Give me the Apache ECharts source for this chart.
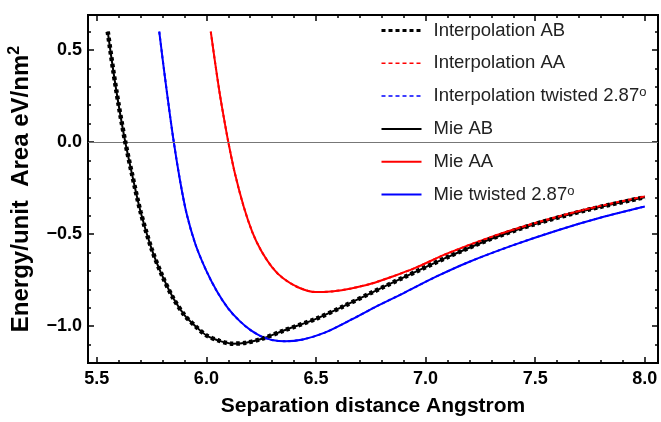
<!DOCTYPE html>
<html>
<head>
<meta charset="utf-8">
<script src="https://cdn.jsdelivr.net/npm/echarts@6/dist/echarts.min.js"></script>
<style>
  html, body { margin: 0; padding: 0; background: #fff; }
  #main { width: 661px; height: 422px; }
</style>
</head>
<body>
<div id="main"></div>
<script>
// AB stacking (black)
var abX = [5.55, 5.575, 5.60, 5.63, 5.66, 5.70, 5.75, 5.80, 5.85, 5.90, 5.95, 6.00, 6.06, 6.12, 6.18, 6.25, 6.35, 6.50, 6.62, 6.75, 6.90, 7.10, 7.30, 7.50, 7.75, 8.00];
var abY = [0.60, 0.39, 0.20, 0.00, -0.17, -0.38, -0.58, -0.73, -0.85, -0.94, -1.00, -1.05, -1.08, -1.095, -1.09, -1.07, -1.025, -0.96, -0.895, -0.82, -0.735, -0.625, -0.525, -0.445, -0.365, -0.30];
// AA stacking (red)
var aaX = [6.02, 6.04, 6.06, 6.08, 6.10, 6.13, 6.17, 6.21, 6.25, 6.30, 6.35, 6.42, 6.50, 6.58, 6.66, 6.75, 6.85, 6.95, 7.10, 7.30, 7.50, 7.75, 8.00];
var aaY = [0.60, 0.43, 0.27, 0.13, 0.00, -0.17, -0.35, -0.49, -0.59, -0.68, -0.74, -0.79, -0.815, -0.81, -0.795, -0.77, -0.73, -0.685, -0.605, -0.515, -0.44, -0.36, -0.295];
// twisted 2.87 deg (blue)
var twX = [5.785, 5.80, 5.82, 5.85, 5.88, 5.91, 5.95, 6.00, 6.05, 6.10, 6.15, 6.20, 6.25, 6.30, 6.36, 6.44, 6.54, 6.66, 6.78, 6.90, 7.05, 7.20, 7.40, 7.60, 7.80, 8.00];
var twY = [0.60, 0.455, 0.27, 0.01, -0.21, -0.39, -0.555, -0.70, -0.815, -0.905, -0.97, -1.02, -1.055, -1.075, -1.082, -1.072, -1.035, -0.965, -0.89, -0.82, -0.73, -0.65, -0.56, -0.48, -0.41, -0.35];

var xMajor = [5.5, 6.0, 6.5, 7.0, 7.5, 8.0];
var xMinor = [5.6, 5.7, 5.8, 5.9, 6.1, 6.2, 6.3, 6.4, 6.6, 6.7, 6.8, 6.9, 7.1, 7.2, 7.3, 7.4, 7.6, 7.7, 7.8, 7.9];
var yMajor = [-1.0, -0.5, 0.0, 0.5];
var yMinor = [-1.1, -0.9, -0.8, -0.7, -0.6, -0.4, -0.3, -0.2, -0.1, 0.1, 0.2, 0.3, 0.4, 0.6];

var names = ['Interpolation AB', 'Interpolation AA', 'Interpolation twisted 2.87o', 'Mie AB', 'Mie AA', 'Mie twisted 2.87o'];

function pairs(xs, ys) {
  return xs.map(function (x, i) { return [x, ys[i]]; });
}

var chart = echarts.init(document.getElementById('main'));

function fmt(v) {
  return v.toFixed(1).replace('-', '\u2212');
}

var labelFont = { color: '#000', fontSize: 18, fontWeight: 'bold', fontFamily: 'Liberation Sans' };

function xAx(pos, ticks, len, labels) {
  return {
    type: 'value', position: pos, min: 5.46, max: 8.06,
    axisLine: { show: false, onZero: false },
    splitLine: { show: false },
    axisTick: { show: true, inside: true, length: len, customValues: ticks, lineStyle: { color: '#000', width: 1.5 } },
    axisLabel: labels ? Object.assign({ show: true, customValues: ticks, formatter: fmt, margin: 7 }, labelFont) : { show: false }
  };
}
function yAx(pos, ticks, len, labels) {
  return {
    type: 'value', position: pos, min: -1.2, max: 0.69,
    axisLine: { show: false, onZero: false },
    splitLine: { show: false },
    axisTick: { show: true, inside: true, length: len, customValues: ticks, lineStyle: { color: '#000', width: 1.5 } },
    axisLabel: labels ? Object.assign({ show: true, customValues: ticks, formatter: fmt, margin: 6 }, labelFont) : { show: false }
  };
}

var xAxes = [xAx('bottom', xMajor, 6, true), xAx('bottom', xMinor, 3, false), xAx('top', xMajor, 6, false), xAx('top', xMinor, 3, false)];
xAxes[0].name = 'Separation distance Angstrom';
xAxes[0].nameLocation = 'middle';
xAxes[0].nameGap = 33;
xAxes[0].nameTextStyle = { color: '#000', fontSize: 21, fontWeight: 'bold', fontFamily: 'Liberation Sans' };

var yAxes = [yAx('left', yMajor, 6, true), yAx('left', yMinor, 3, false), yAx('right', yMajor, 6, false), yAx('right', yMinor, 3, false)];

function lineSeries(name, data, color, width, type, z) {
  return {
    name: name, type: 'line', data: data, xAxisIndex: 0, yAxisIndex: 0,
    showSymbol: false, symbol: 'none', smooth: 0.3, z: z,
    lineStyle: { color: color, width: width, type: type, cap: 'butt' },
    itemStyle: { color: color }
  };
}

var series = [
  lineSeries(names[0], pairs(abX, abY), '#000', 4.5, [3.5, 3], 5),
  lineSeries(names[1], pairs(aaX, aaY), '#ff0000', 2, [3, 3], 5),
  lineSeries(names[2], pairs(twX, twY), '#0000ff', 2, [3, 3], 5),
  lineSeries(names[3], pairs(abX, abY), '#000', 2, 'solid', 3),
  lineSeries(names[4], pairs(aaX, aaY), '#ff0000', 2, 'solid', 3),
  lineSeries(names[5], pairs(twX, twY), '#0000ff', 2, 'solid', 3)
];
series[3].markLine = {
  silent: true, symbol: 'none', label: { show: false },
  lineStyle: { color: '#777', width: 1, type: 'solid' },
  data: [{ yAxis: 0 }]
};

var legendData = names.map(function (n, i) {
  if (i === 0) return { name: n, lineStyle: { width: 3, type: [4, 3] } };
  if (i < 3) return { name: n, lineStyle: { width: 1.5, type: [4, 3] } };
  return { name: n, lineStyle: { width: 2 } };
});

chart.setOption({
  animation: false,
  backgroundColor: '#fff',
  grid: { left: 88, right: 3, top: 15, bottom: 54, show: true, borderColor: '#000', borderWidth: 2, backgroundColor: 'transparent' },
  legend: {
    data: legendData,
    orient: 'vertical',
    left: 375, top: 15.5,
    itemWidth: 40, itemHeight: 14, itemGap: 12.8,
    itemStyle: { opacity: 0 },
    formatter: function (n) { return n.replace('2.87o', '2.87{sup|o}'); },
    textStyle: {
      color: '#222', fontSize: 18.5, lineHeight: 20, fontFamily: 'Liberation Sans', padding: [0, 0, 0, 7],
      rich: { sup: { fontSize: 13, lineHeight: 20, fontFamily: 'Liberation Sans', color: '#222', verticalAlign: 'top' } }
    }
  },
  graphic: [{
    type: 'text', x: 21, y: 189, rotation: Math.PI / 2,
    style: {
      text: 'Energy/unit  Area eV/nm{sup|2}',
      fill: '#000', font: 'bold 24px "Liberation Sans"',
      align: 'center', verticalAlign: 'middle',
      rich: { sup: { fontSize: 16, fontWeight: 'bold', fontFamily: 'Liberation Sans', fill: '#000', verticalAlign: 'top', lineHeight: 28 } }
    }
  }],
  xAxis: xAxes,
  yAxis: yAxes,
  series: series
});
</script>
</body>
</html>
